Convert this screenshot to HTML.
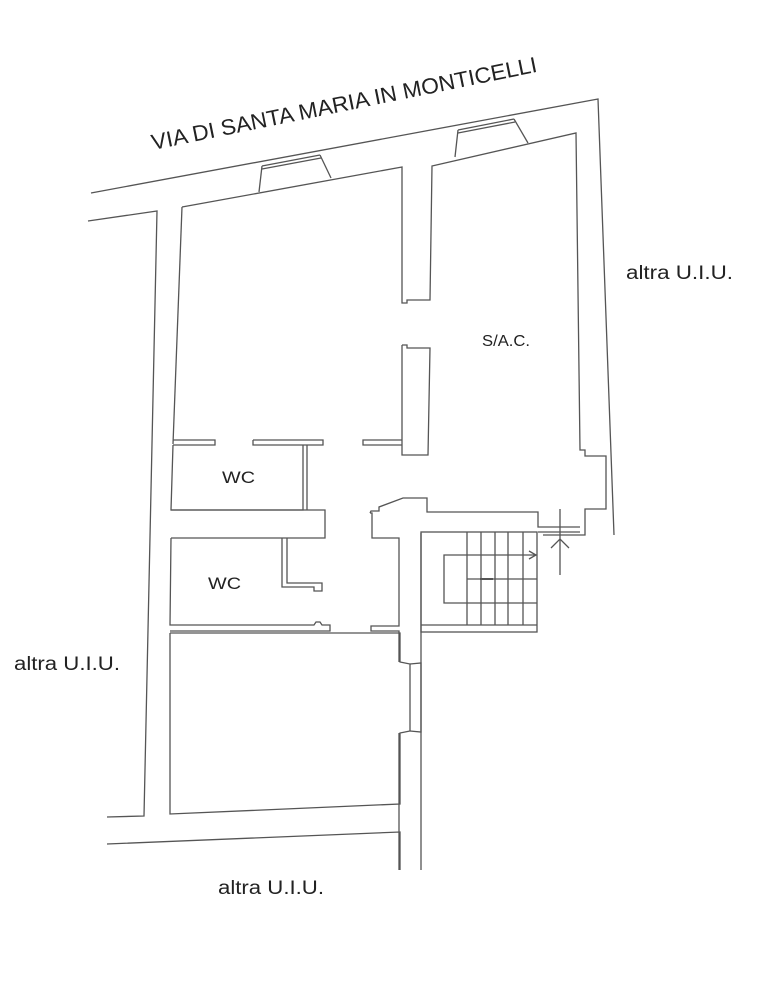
<!DOCTYPE html>
<html><head><style>
html,body{margin:0;padding:0;background:#fff;}
svg{display:block;}
text{font-family:"Liberation Sans",Arial,sans-serif;fill:#222;}
</style></head><body>
<svg width="761" height="993" viewBox="0 0 761 993" xmlns="http://www.w3.org/2000/svg">
<g fill="none" stroke="#555" stroke-width="1.3">
<polyline points="91,193 598,99 614,535"/>
<polyline points="88,221 157,211 144,816 107,817"/>
<polyline points="182,207 402,167 402,303 407,303 407,300 430,300 432,166 576,133 580,450 585,450 585,456 606,456 606,509 585,509 585,535 543,535"/>
<polyline points="182,207 173,444"/>
<polyline points="262,166 259,192"/>
<polyline points="320,155 331,178"/>
<line x1="262" y1="169" x2="321" y2="158"/>
<line x1="262" y1="166" x2="320" y2="155"/>
<polyline points="458,130 455,157"/>
<polyline points="514,119 528,143"/>
<line x1="458" y1="133" x2="515" y2="122"/>
<line x1="458" y1="130" x2="514" y2="119"/>
<polyline points="402,345 407,345 407,348 430,348 428,455 402,455 402,345"/>
<polyline points="173,440 215,440 215,445 173,445"/>
<polyline points="253,440 323,440 323,445 253,445 253,440"/>
<polyline points="402,440 363,440 363,445 402,445"/>
<polyline points="173,445 171,510 303,510 303,445"/>
<polyline points="307,445 307,510"/>
<polyline points="171,510 325,510 325,538 171,538"/>
<polyline points="171,538 170,625 314,625 316,622 320,622 322,625 330,625 330,631 170,631"/>
<polyline points="282,538 282,587 314,587 314,591 322,591 322,583 287,583 287,538"/>
<polyline points="170,633 400,633 400,662 410,664 410,731 400,733 400,804 170,814 170,633"/>
<polyline points="410,664 421,663 421,732 410,731"/>
<polyline points="370,513 371,511 379,511 379,507 403,498 427,498 427,512 538,512 538,527 580,527"/>
<polyline points="370,513 372,513 372,538 399,538 399,626 371,626 371,631 399,631 399,662"/>
<polyline points="399,733 399,870"/>
<polyline points="421,533 421,870"/>
<rect x="421" y="532" width="116" height="100"/>
<line x1="421" y1="625" x2="537" y2="625"/>
<line x1="467" y1="532" x2="467" y2="625"/>
<line x1="481" y1="532" x2="481" y2="625"/>
<line x1="495" y1="532" x2="495" y2="625"/>
<line x1="508" y1="532" x2="508" y2="625"/>
<line x1="523" y1="532" x2="523" y2="625"/>
<polyline points="537,555 444,555 444,603 537,603"/>
<line x1="467" y1="579" x2="537" y2="579"/>
<line x1="480" y1="579" x2="493" y2="579" stroke-width="2"/>
<polyline points="529,551 536,555 529,559"/>
<line x1="538" y1="532" x2="580" y2="532"/>
<line x1="560" y1="509" x2="560" y2="575"/>
<polyline points="551,548 560,539 569,548"/>
<polyline points="107,844 400,832 400,870"/>
</g>
<text x="0" y="0" font-size="22" textLength="393" lengthAdjust="spacingAndGlyphs" transform="translate(153,150) rotate(-11.5)">VIA DI SANTA MARIA IN MONTICELLI</text>
<text x="626" y="279" font-size="19" textLength="107" lengthAdjust="spacingAndGlyphs">altra U.I.U.</text>
<text x="14" y="670" font-size="19" textLength="106" lengthAdjust="spacingAndGlyphs">altra U.I.U.</text>
<text x="218" y="894" font-size="19" textLength="106" lengthAdjust="spacingAndGlyphs">altra U.I.U.</text>
<text x="482" y="346" font-size="16" textLength="48" lengthAdjust="spacingAndGlyphs">S/A.C.</text>
<text x="222" y="483" font-size="17" textLength="33" lengthAdjust="spacingAndGlyphs">WC</text>
<text x="208" y="589" font-size="17" textLength="33" lengthAdjust="spacingAndGlyphs">WC</text>
</svg>
</body></html>
